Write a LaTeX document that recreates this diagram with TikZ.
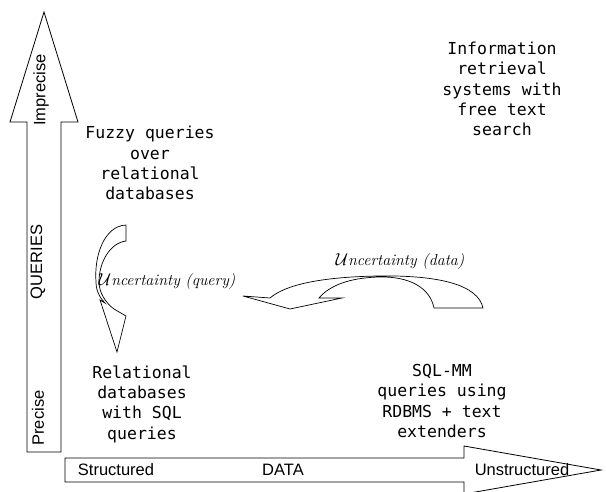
\documentclass[tikz,border=0pt]{standalone}
\usepackage{fontspec}
\setsansfont{Liberation Sans}
\setmonofont{DejaVu Sans Mono}

\begin{document}
\begin{tikzpicture}[x=1pt, y=-1pt,
    fatarrow/.style={draw, fill=white, line width=0.8pt, line join=miter},
    axislabel/.style={font=\fontsize{16.5}{20}\selectfont\sffamily, inner sep=0pt},
    system/.style={align=center, font=\fontsize{16.5}{20.3}\selectfont\ttfamily, inner sep=0pt},
    uncert/.style={font=\fontsize{16}{19}\selectfont\itshape, inner sep=0pt}]
   \useasboundingbox (0,0) rectangle (606,491);

   % queries axis
   \path[fatarrow] (44,12) -- (78,122) -- (61,122) -- (61,452) --
     (27,452) -- (27,122) -- (10,122) -- cycle;
   % data axis
   \path[fatarrow] (601,470) -- (464,494) -- (464,482) -- (65,482) --
     (65,458) -- (464,458) -- (464,446) -- cycle;

   \node[axislabel, rotate=90] (imprecise) at (41,90) {Imprecise};
   \node[axislabel, rotate=90] (queries) at (38,262) {QUERIES};
   \node[axislabel, rotate=90] (precise) at (38,418) {Precise};
   \node[axislabel] (structured) at (116,470) {Structured};
   \node[axislabel] (data) at (283,470) {DATA};
   \node[axislabel] (unstructured) at (522,470) {Unstructured};

   % curved arrows
   \path[fatarrow, line width=0.7pt] (126,225) -- (126,241)
     .. controls (110,243) and (99,262) .. (99,282)
     .. controls (99,293) and (106,303) .. (114,309)
     -- (126,316) -- (117,352) -- (100,300) -- (105,303)
     .. controls (101,299) and (96,292) .. (96,282)
     .. controls (94,256) and (104,226) .. (126,225) -- cycle;
   \path[fatarrow, line width=0.7pt] (483,308) -- (434,308)
     .. controls (430,288) and (410,276) .. (378,277)
     .. controls (350,278) and (330,285) .. (319,298)
     -- (342,298) -- (290,309) -- (243,296) -- (270,298)
     .. controls (285,285) and (320,277) .. (378,276)
     .. controls (440,275) and (478,285) .. (483,308) -- cycle;

   \node[uncert] (uquery) at (167,282) {$\mathcal{U}$ncertainty (query)};
   \node[uncert] (udata) at (400,262) {$\mathcal{U}$ncertainty (data)};

   \node[system] (fuzzy) at (150,163) {Fuzzy queries\\over\\relational\\databases};
   \node[system] (irs) at (502,89) {Information\\retrieval\\systems with\\free text\\search};
   \node[system] (rdbms) at (142,404) {Relational\\databases\\with SQL\\queries};
   \node[system] (sqlmm) at (442,401) {SQL-MM\\queries using\\RDBMS + text\\extenders};
\end{tikzpicture}
\end{document}
